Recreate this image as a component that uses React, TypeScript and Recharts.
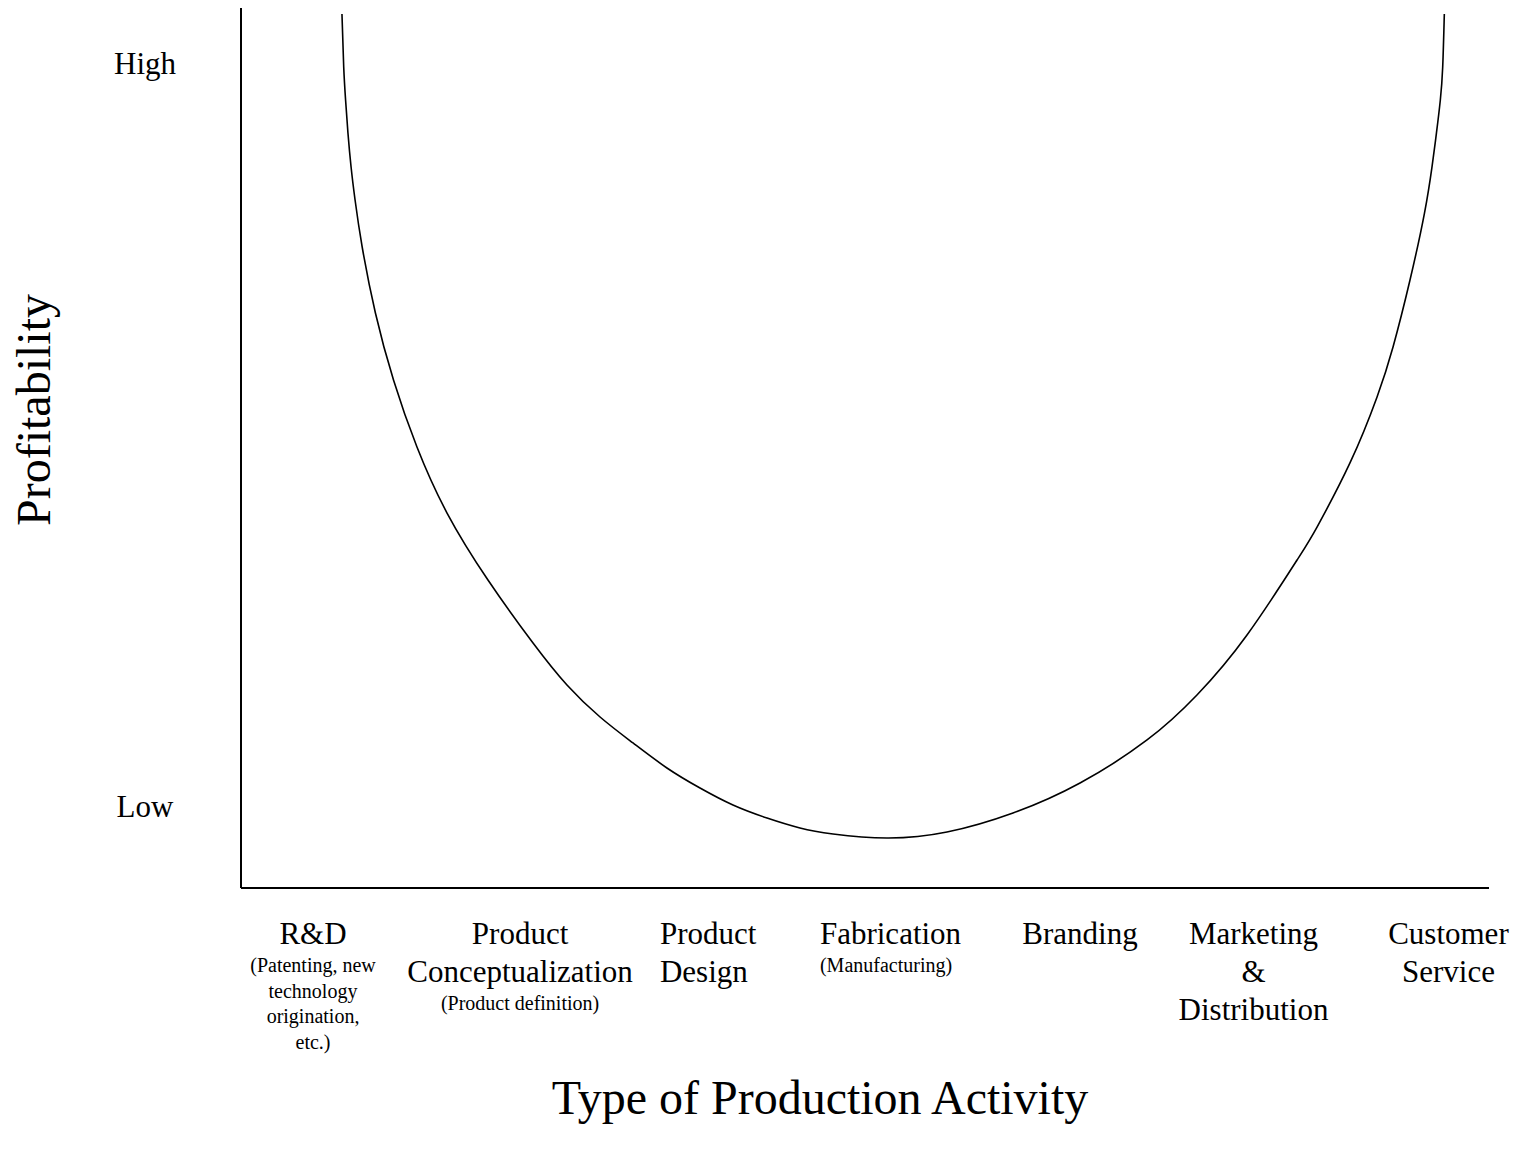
import React from "react";
import { LineChart, Line, XAxis, YAxis, Label } from "recharts";

// Smile curve: position along the production-activity axis (0-100) and profitability (0-100)
const activityPos = [
  8.09, 8.23, 8.38, 8.57, 8.82, 9.14, 9.71, 10.77, 12.22, 14.1, 16.51, 19.79, 23.4, 26.12, 28.77,
  31.41, 34.13, 36.78, 39.42, 42.15, 44.79, 47.44, 51.76,
  56.57, 61.86, 67.23, 72.6, 76.6, 80.61, 84.62, 86.22, 88.86, 91.03, 92.31, 93.67, 94.83,
  95.43, 95.79, 96.1, 96.29, 96.42,
];
const profitability = [
  99.32, 93.3, 89.55, 85.8, 81.93, 78.18, 72.84, 65.34, 57.73, 50.11, 42.61, 35.0, 27.84, 23.07, 19.43,
  16.48, 13.64, 11.36, 9.43, 7.95, 6.82, 6.14, 5.68,
  6.36, 8.52, 11.93, 16.82, 21.93, 28.75, 37.27, 41.02, 48.3, 55.8, 61.48, 69.09, 76.7,
  81.93, 85.8, 89.55, 93.3, 99.32,
];

// Y-axis tick labels
const yTickValues = [9.3, 93.75];
const yTickLabels = ["Low", "High"];

// X-axis category labels
const categoryPos = [5.77, 22.36, 33.57, 46.39, 67.23, 81.13, 96.75];
const categoryMain = [
  ["R&D"],
  ["Product", "Conceptualization"],
  ["Product", "Design"],
  ["Fabrication"],
  ["Branding"],
  ["Marketing", "&", "Distribution"],
  ["Customer", "Service"],
];
const categorySub = [
  ["(Patenting, new", "technology", "origination,", "etc.)"],
  ["(Product definition)"],
  [],
  ["(Manufacturing)"],
  [],
  [],
  [],
];
const categoryAlign = ["middle", "middle", "start", "start", "middle", "middle", "middle"];

const xTitle = "Type of Production Activity";
const yTitle = "Profitability";

const data = activityPos.map((x, i) => ({ x, y: profitability[i] }));

const FONT = "'Times New Roman', 'Liberation Serif', serif";

const XTick = (props: any) => {
  const { x, payload } = props;
  const idx = categoryPos.indexOf(payload.value);
  if (idx < 0) return null;
  const main = categoryMain[idx];
  const sub = categorySub[idx];
  const anchor = categoryAlign[idx] as any;
  const baseY = 936;
  const lastMain = baseY + (main.length - 1) * 38;
  return (
    <g>
      {main.map((t, i) => (
        <text key={"m" + i} x={x} y={baseY + i * 38} textAnchor={anchor} fontFamily={FONT} fontSize={31} fill="#000">
          {t}
        </text>
      ))}
      {sub.map((t, j) => (
        <text key={"s" + j} x={x} y={lastMain + 28 + j * 25.5} textAnchor={anchor} fontFamily={FONT} fontSize={20} fill="#000">
          {t}
        </text>
      ))}
    </g>
  );
};

const YTick = (props: any) => {
  const { y, payload } = props;
  const idx = yTickValues.indexOf(payload.value);
  if (idx < 0) return null;
  return (
    <text x={137} y={y} dy={11} textAnchor="middle" fontFamily={FONT} fontSize={31} fill="#000">
      {yTickLabels[idx]}
    </text>
  );
};

export default function App() {
  return (
    <div style={{ width: 1508, height: 1136, background: "#fff" }}>
      <LineChart width={1508} height={1136} data={data} margin={{ top: 0, right: 27, bottom: 36, left: 0 }}>
        <XAxis
          type="number"
          dataKey="x"
          domain={[0, 100]}
          ticks={categoryPos}
          interval={0}
          tick={<XTick />}
          tickLine={false}
          axisLine={{ stroke: "#000", strokeWidth: 2 }}
          height={220}
          allowDataOverflow
        >
          <Label
            content={() => (
              <text x={812} y={1106} textAnchor="middle" fontFamily={FONT} fontSize={48} fill="#000">
                {xTitle}
              </text>
            )}
          />
        </XAxis>
        <YAxis
          type="number"
          domain={[0, 100]}
          ticks={yTickValues}
          interval={0}
          tick={<YTick />}
          tickLine={false}
          axisLine={{ stroke: "#000", strokeWidth: 2 }}
          width={233}
          allowDataOverflow
        >
          <Label
            content={() => (
              <text
                x={42}
                y={402}
                transform="rotate(-90 42 402)"
                textAnchor="middle"
                fontFamily={FONT}
                fontSize={48}
                fill="#000"
              >
                {yTitle}
              </text>
            )}
          />
        </YAxis>
        <Line
          type="natural"
          dataKey="y"
          stroke="#000"
          strokeWidth={1.6}
          dot={false}
          activeDot={false}
          isAnimationActive={false}
        />
      </LineChart>
    </div>
  );
}
